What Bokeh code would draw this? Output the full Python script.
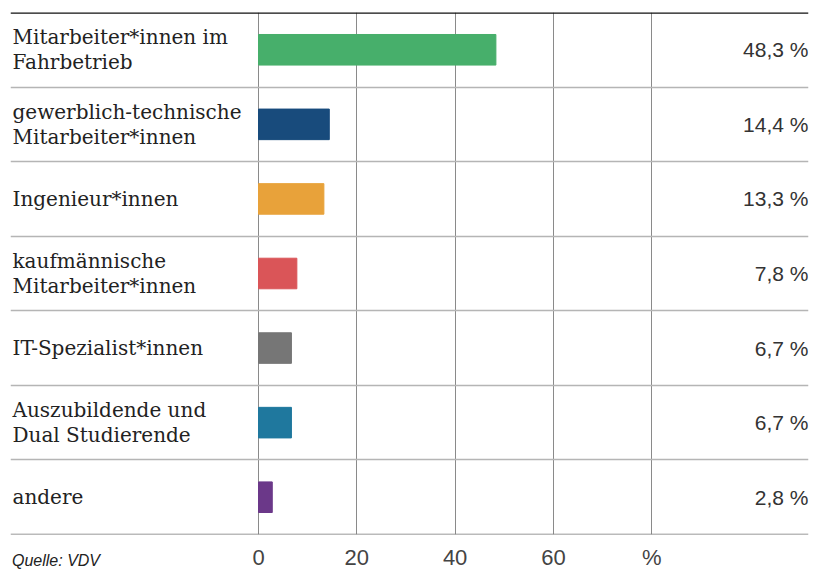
from bokeh.plotting import figure
from bokeh.models import ColumnDataSource, FixedTicker, Span, Range1d, Div
from bokeh.layouts import column
from bokeh.core.properties import value
from bokeh.embed import file_html
from bokeh.resources import INLINE

categories = [
    "Mitarbeiter*innen im\nFahrbetrieb",
    "gewerblich-technische\nMitarbeiter*innen",
    "Ingenieur*innen",
    "kaufmännische\nMitarbeiter*innen",
    "IT-Spezialist*innen",
    "Auszubildende und\nDual Studierende",
    "andere",
]
shares = [48.3, 14.4, 13.3, 7.8, 6.7, 6.7, 2.8]
colors = ["#47AF6B", "#184B7C", "#E8A23A", "#DA5558", "#767676", "#1F789E", "#6B3889"]
tick_values = [0, 20, 40, 60, 80]
tick_labels = {80: "%"}
source_note = "Quelle: VDV"

n = len(categories)
y_pos = [n - i - 0.5 for i in range(n)]
value_texts = [f"{v:.1f}".replace(".", ",") + " %" for v in shares]

X_START, X_END = -50.46, 111.9

p = figure(frame_width=798, frame_height=522, output_backend="svg", toolbar_location=None,
           x_range=Range1d(X_START, X_END), y_range=Range1d(0, n),
           min_border_left=10, min_border_right=16, min_border_top=12, min_border_bottom=36)
p.outline_line_color = None
p.background_fill_color = "white"
p.border_fill_color = "white"

src = ColumnDataSource(dict(y=y_pos, right=shares, color=colors, cat=categories,
                            vt=value_texts, xl=[X_START] * n, xr=[X_END] * n))

p.hbar(y="y", left=0, right="right", height=0.41, color="color", source=src)

p.text(x="xl", y="y", text="cat", source=src, x_offset=2,
       text_font=value("DejaVu Serif"), text_font_size="20px", text_color="#222222",
       text_align="left", text_baseline="middle", text_line_height=1.05)
p.text(x="xr", y="y", text="vt", source=src,
       text_font=value("Liberation Sans"), text_font_size="21px", text_color="#333333",
       text_align="right", text_baseline="middle")

# grids
p.xgrid.ticker = FixedTicker(ticks=tick_values)
p.xgrid.grid_line_color = "#8a8a8a"
p.xgrid.grid_line_width = 1
p.ygrid.ticker = FixedTicker(ticks=list(range(1, n)))
p.ygrid.grid_line_color = "#b5b5b5"
p.ygrid.grid_line_width = 1.5

p.add_layout(Span(location=n, dimension="width", line_color="#111111", line_width=2.5))
p.add_layout(Span(location=0, dimension="width", line_color="#777777", line_width=1.5))

# axes
p.yaxis.visible = False
ax = p.xaxis[0]
ax.ticker = FixedTicker(ticks=tick_values)
ax.major_label_overrides = tick_labels
ax.axis_line_color = None
ax.major_tick_line_color = None
ax.minor_tick_line_color = None
ax.major_tick_in = 0
ax.major_tick_out = 0
ax.minor_tick_in = 0
ax.minor_tick_out = 0
ax.major_label_standoff = 10
ax.major_label_text_font = "Liberation Sans"
ax.major_label_text_font_size = "22px"
ax.major_label_text_color = "#444444"

note = Div(text=source_note, margin=(-20, 0, 0, 12),
           styles={"font-family": "Liberation Sans", "font-style": "italic",
                   "font-size": "16px", "color": "#222222", "line-height": "18px"})

layout = column(p, note, spacing=0)
open("out.html", "w").write(file_html(layout, INLINE))
